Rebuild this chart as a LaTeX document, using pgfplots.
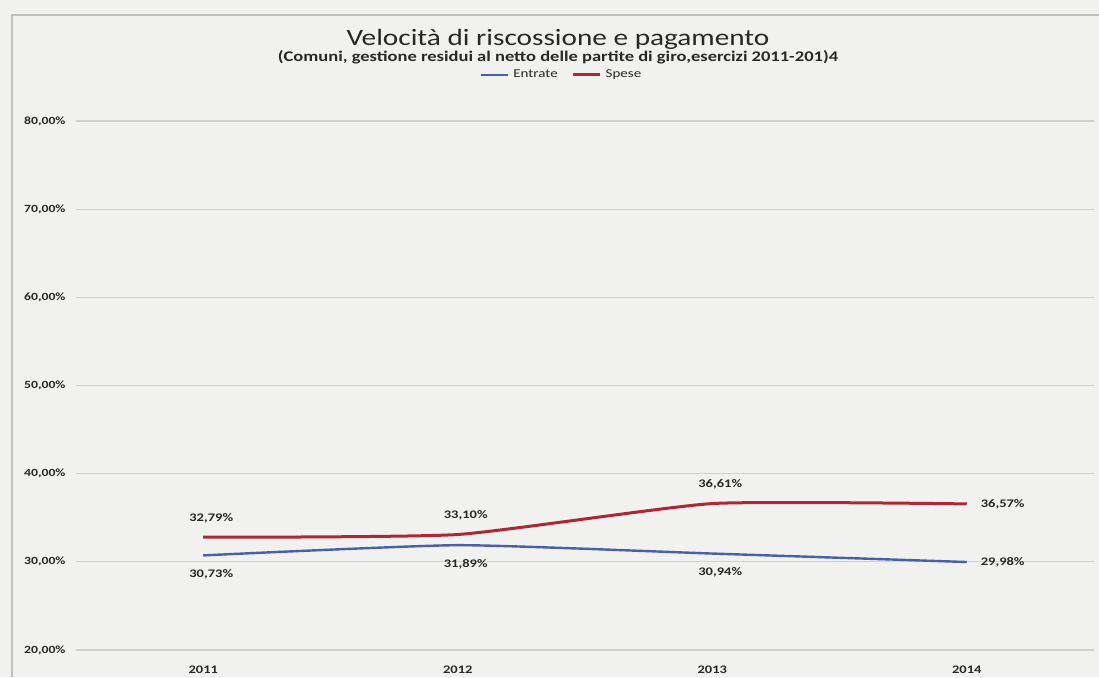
\documentclass[border=0pt]{standalone}
\usepackage{fontspec}
\setmainfont{Carlito}[FakeStretch=1.25]
\usepackage{pgfplots}
\pgfplotsset{compat=1.18}
\definecolor{bg}{RGB}{241,241,240}
\definecolor{entr}{RGB}{72,96,168}
\definecolor{spes}{RGB}{172,40,55}
\definecolor{gridc}{RGB}{208,208,208}
\definecolor{txt}{RGB}{40,40,40}

\pgfplotsset{
  lbl/.style={
    draw=none, mark=none, forget plot,
    nodes near coords={\pgfmathprintnumber[fixed,fixed zerofill,precision=2,use comma]{\pgfplotspointmeta}\%},
    point meta=y,
    every node near coord/.style={font=\bfseries\fontsize{5.8}{7}\selectfont, text=txt, #1},
  }
}

\begin{document}
\begin{tikzpicture}[x=1pt,y=1pt]
\fill[bg] (-38,-13.5) rectangle (511.5,325);
\useasboundingbox (-38,-13.5) rectangle (511.5,325);
\draw[gray!50, line width=0.6pt] (-32,-13.5) -- (-32,317.5) -- (511.5,317.5);
\node[txt, anchor=base, font=\fontsize{11.7}{14}\selectfont] at (241,302.5) {Velocità di riscossione e pagamento};
\node[txt, anchor=base, font=\bfseries\fontsize{7.4}{9}\selectfont] at (241,294.5) {(Comuni, gestione residui al netto delle partite di giro,esercizi 2011-201)4};
\begin{axis}[
  at={(0,0)}, anchor=south west,
  width=509pt, height=264.5pt, scale only axis,
  xmin=-0.5, xmax=3.5, ymin=20, ymax=80,
  xtick={0,1,2,3}, xticklabels={2011,2012,2013,2014},
  ytick={20,30,40,50,60,70,80},
  /pgf/number format/assume math mode=true,
  yticklabel={\pgfmathprintnumber[fixed,fixed zerofill,precision=2,use comma]{\tick}\%},
  yticklabel style={font=\bfseries\fontsize{5.5}{7}\selectfont, text=txt, anchor=west, xshift=-29.5pt},
  xticklabel style={font=\bfseries\fontsize{5.8}{7}\selectfont, text=txt, yshift=-4.5pt},
  axis line style={draw=none},
  major tick style={draw=none},
  ymajorgrids, grid style={gridc, line width=0.6pt},
  clip=false,
  legend style={at={(0.478,1.087)}, anchor=center, draw=none, fill=none,
    legend columns=2, font=\fontsize{6}{7}\selectfont, text=txt,
    /tikz/every even column/.append style={column sep=5pt}},
  legend image code/.code={\draw[#1] (0pt,0pt) -- (13.5pt,0pt);},
]
\addplot[entr, line width=1.2pt, smooth, tension=0.3, mark=none] coordinates {(0,30.73) (1,31.89) (2,30.94) (3,29.98)};
\addlegendentry{Entrate}
\addplot[spes, line width=1.5pt, smooth, tension=0.3, mark=none] coordinates {(0,32.79) (1,33.10) (2,36.61) (3,36.57)};
\addlegendentry{Spese}
% data labels
\addplot[lbl={anchor=north, xshift=4pt, yshift=-3.5pt}] coordinates {(0,30.73) (1,31.89) (2,30.94)};
\addplot[lbl={anchor=west, xshift=3.5pt}] coordinates {(3,29.98)};
\addplot[lbl={anchor=south, xshift=4pt, yshift=3.5pt}] coordinates {(0,32.79) (1,33.10) (2,36.61)};
\addplot[lbl={anchor=west, xshift=3.5pt}] coordinates {(3,36.57)};
\end{axis}
\end{tikzpicture}
\end{document}
